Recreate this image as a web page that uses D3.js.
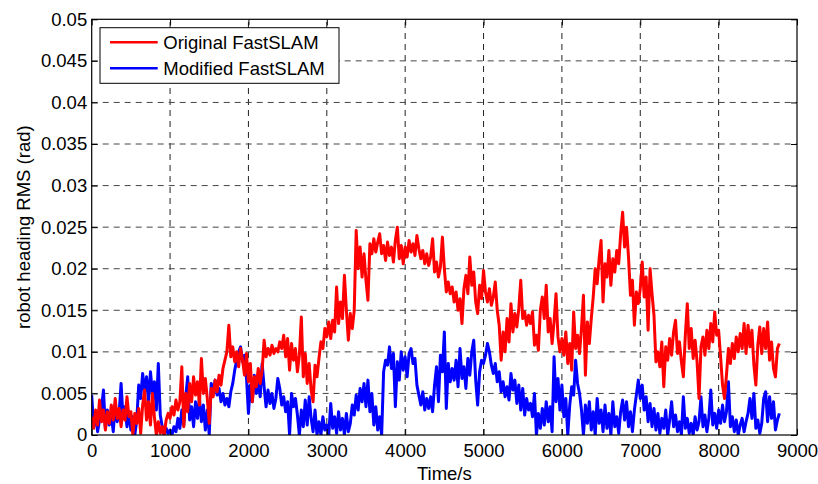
<!DOCTYPE html>
<html><head><meta charset="utf-8">
<script src="https://cdn.jsdelivr.net/npm/d3@7"></script>
<style>
body{margin:0;background:#fff}
svg{display:block}
text{font-family:Arial,"Liberation Sans",Helvetica,sans-serif;fill:#000}
</style>
</head><body>
<svg id="chart" width="818" height="484"></svg>
<script>
// ---- data ----
const sampleStep = 25; // seconds between samples, first sample at t = 0
const seriesNames = ["Original FastSLAM", "Modified FastSLAM"];
const seriesColors = ["#ff0000", "#0000ff"];
const originalRMS = [
 0.0022,0.0008,0.0030,0.0012,0.0042,0.0016,0.0030,0.0006,0.0028,0.0014,
 0.0036,0.0018,0.0044,0.0020,0.0032,0.0010,0.0030,0.0018,0.0046,0.0022,
 0.0028,0.0000,0.0026,0.0014,0.0032,0.0002,0.0036,0.0054,0.0018,0.0040,
 0.0012,0.0050,0.0022,0.0000,0.0016,0.0002,0.0010,0.0000,0.0018,0.0026,
 0.0020,0.0034,0.0024,0.0042,0.0030,0.0040,0.0082,0.0010,0.0050,0.0028,
 0.0062,0.0040,0.0070,0.0048,0.0064,0.0036,0.0092,0.0050,0.0068,0.0044,
 0.0014,0.0056,0.0046,0.0066,0.0052,0.0072,0.0060,0.0080,0.0090,0.0100,
 0.0132,0.0094,0.0106,0.0088,0.0100,0.0082,0.0104,0.0090,0.0072,0.0098,
 0.0064,0.0086,0.0040,0.0070,0.0058,0.0080,0.0062,0.0078,0.0114,0.0094,
 0.0104,0.0096,0.0108,0.0098,0.0104,0.0100,0.0112,0.0104,0.0120,0.0094,
 0.0116,0.0078,0.0110,0.0090,0.0104,0.0076,0.0096,0.0142,0.0070,0.0098,
 0.0062,0.0086,0.0054,0.0040,0.0084,0.0070,0.0092,0.0112,0.0104,0.0128,
 0.0118,0.0136,0.0116,0.0138,0.0124,0.0178,0.0134,0.0160,0.0140,0.0192,
 0.0150,0.0114,0.0146,0.0128,0.0150,0.0246,0.0200,0.0226,0.0190,0.0218,
 0.0186,0.0162,0.0230,0.0218,0.0236,0.0220,0.0232,0.0242,0.0218,0.0228,
 0.0210,0.0232,0.0216,0.0226,0.0208,0.0234,0.0250,0.0212,0.0228,0.0206,
 0.0226,0.0214,0.0234,0.0220,0.0230,0.0216,0.0240,0.0224,0.0212,0.0222,
 0.0206,0.0218,0.0204,0.0214,0.0236,0.0196,0.0208,0.0190,0.0202,0.0238,
 0.0200,0.0172,0.0184,0.0170,0.0178,0.0160,0.0172,0.0150,0.0164,0.0134,
 0.0176,0.0192,0.0170,0.0214,0.0180,0.0196,0.0160,0.0146,0.0180,0.0164,
 0.0198,0.0172,0.0160,0.0176,0.0156,0.0166,0.0184,0.0150,0.0132,0.0090,
 0.0124,0.0100,0.0140,0.0112,0.0158,0.0124,0.0146,0.0130,0.0152,0.0186,
 0.0140,0.0148,0.0132,0.0144,0.0134,0.0148,0.0108,0.0120,0.0102,0.0150,
 0.0166,0.0140,0.0180,0.0124,0.0140,0.0110,0.0136,0.0170,0.0118,0.0100,
 0.0116,0.0096,0.0124,0.0086,0.0110,0.0078,0.0148,0.0104,0.0120,0.0098,
 0.0128,0.0168,0.0072,0.0136,0.0110,0.0140,0.0166,0.0200,0.0182,0.0212,
 0.0234,0.0160,0.0206,0.0190,0.0222,0.0180,0.0212,0.0196,0.0222,0.0206,
 0.0242,0.0268,0.0226,0.0250,0.0214,0.0168,0.0186,0.0132,0.0172,0.0158,
 0.0176,0.0208,0.0166,0.0190,0.0126,0.0200,0.0170,0.0144,0.0088,0.0100,
 0.0082,0.0112,0.0058,0.0106,0.0090,0.0116,0.0096,0.0124,0.0138,0.0098,
 0.0112,0.0088,0.0070,0.0120,0.0158,0.0104,0.0128,0.0092,0.0114,0.0088,
 0.0044,0.0106,0.0118,0.0096,0.0126,0.0104,0.0134,0.0112,0.0148,0.0120,
 0.0126,0.0094,0.0060,0.0044,0.0072,0.0104,0.0086,0.0110,0.0092,0.0118,
 0.0100,0.0122,0.0104,0.0134,0.0098,0.0132,0.0106,0.0126,0.0084,0.0060,
 0.0108,0.0130,0.0098,0.0128,0.0104,0.0136,0.0090,0.0112,0.0080,0.0070,
 0.0104,0.0110
];
const modifiedRMS = [
 0.0048,0.0010,0.0026,0.0004,0.0018,0.0032,0.0054,0.0008,0.0030,0.0012,
 0.0024,0.0004,0.0036,0.0016,0.0026,0.0062,0.0020,0.0034,0.0010,0.0028,
 0.0006,0.0022,0.0000,0.0018,0.0060,0.0044,0.0074,0.0052,0.0070,0.0040,
 0.0076,0.0050,0.0064,0.0030,0.0086,0.0024,0.0010,0.0000,0.0008,0.0002,
 0.0006,0.0000,0.0010,0.0004,0.0020,0.0008,0.0030,0.0012,0.0046,0.0070,
 0.0018,0.0034,0.0010,0.0040,0.0020,0.0044,0.0016,0.0036,0.0006,0.0030,
 0.0000,0.0062,0.0052,0.0066,0.0048,0.0056,0.0040,0.0050,0.0036,0.0044,
 0.0034,0.0052,0.0062,0.0078,0.0090,0.0100,0.0106,0.0088,0.0096,0.0070,
 0.0026,0.0060,0.0040,0.0072,0.0050,0.0064,0.0046,0.0086,0.0058,0.0034,
 0.0054,0.0038,0.0050,0.0032,0.0044,0.0068,0.0056,0.0036,0.0046,0.0028,
 0.0040,0.0000,0.0050,0.0034,0.0044,0.0024,0.0000,0.0030,0.0010,0.0042,
 0.0012,0.0046,0.0020,0.0004,0.0030,0.0000,0.0016,0.0000,0.0022,0.0006,
 0.0012,0.0000,0.0038,0.0008,0.0022,0.0002,0.0028,0.0006,0.0020,0.0000,
 0.0026,0.0004,0.0014,0.0036,0.0024,0.0048,0.0030,0.0056,0.0040,0.0062,
 0.0034,0.0066,0.0028,0.0050,0.0012,0.0034,0.0006,0.0022,0.0000,0.0076,
 0.0090,0.0084,0.0106,0.0080,0.0098,0.0034,0.0088,0.0066,0.0100,0.0078,
 0.0094,0.0070,0.0098,0.0104,0.0086,0.0092,0.0060,0.0048,0.0036,0.0052,
 0.0030,0.0044,0.0032,0.0046,0.0028,0.0060,0.0082,0.0040,0.0096,0.0076,
 0.0124,0.0032,0.0086,0.0064,0.0080,0.0066,0.0090,0.0058,0.0104,0.0068,
 0.0082,0.0056,0.0092,0.0072,0.0100,0.0114,0.0066,0.0036,0.0076,0.0090,
 0.0086,0.0096,0.0110,0.0100,0.0084,0.0074,0.0086,0.0064,0.0076,0.0052,
 0.0064,0.0046,0.0058,0.0042,0.0074,0.0054,0.0066,0.0038,0.0060,0.0030,
 0.0056,0.0024,0.0044,0.0030,0.0038,0.0022,0.0050,0.0000,0.0026,0.0008,
 0.0032,0.0012,0.0040,0.0016,0.0034,0.0004,0.0094,0.0040,0.0068,0.0030,
 0.0060,0.0022,0.0044,0.0000,0.0036,0.0058,0.0048,0.0090,0.0062,0.0050,
 0.0030,0.0000,0.0036,0.0014,0.0040,0.0006,0.0028,0.0000,0.0044,0.0014,
 0.0030,0.0004,0.0036,0.0008,0.0026,0.0000,0.0040,0.0010,0.0022,0.0002,
 0.0028,0.0042,0.0018,0.0040,0.0010,0.0028,0.0004,0.0030,0.0048,0.0066,
 0.0044,0.0060,0.0030,0.0046,0.0016,0.0038,0.0010,0.0032,0.0006,0.0026,
 0.0002,0.0020,0.0008,0.0030,0.0000,0.0018,0.0040,0.0010,0.0024,0.0004,
 0.0016,0.0000,0.0046,0.0008,0.0020,0.0002,0.0014,0.0000,0.0022,0.0006,
 0.0016,0.0046,0.0010,0.0024,0.0004,0.0020,0.0054,0.0012,0.0026,0.0008,
 0.0030,0.0014,0.0036,0.0016,0.0028,0.0064,0.0010,0.0022,0.0004,0.0018,
 0.0000,0.0012,0.0020,0.0004,0.0016,0.0026,0.0044,0.0020,0.0050,0.0008,
 0.0018,0.0002,0.0014,0.0044,0.0052,0.0016,0.0046,0.0020,0.0040,0.0006,
 0.0018,0.0026
];
const xTicks = [0,1000,2000,3000,4000,5000,6000,7000,8000,9000];
const xTickLabels = ["0","1000","2000","3000","4000","5000","6000","7000","8000","9000"];
const yTicks = [0,0.005,0.01,0.015,0.02,0.025,0.03,0.035,0.04,0.045,0.05];
const yTickLabels = ["0","0.005","0.01","0.015","0.02","0.025","0.03","0.035","0.04","0.045","0.05"];
const xLabel = "Time/s";
const yLabel = "robot heading RMS (rad)";

// ---- layout ----
const L = 91.7, R = 797, T = 19.3, B = 435;
const FS = "18.5px";
const svg = d3.select("#chart");
const x = d3.scaleLinear().domain([0, 9000]).range([L, R]);
const y = d3.scaleLinear().domain([0, 0.05]).range([B, T]);

// grid
const grid = svg.append("g").attr("stroke-width", 1)
  .attr("stroke-dasharray", "6,5").attr("fill", "none");
grid.selectAll(".gx").data(xTicks.slice(1, -1)).join("line")
  .attr("stroke", "#222")
  .attr("x1", d => x(d)).attr("x2", d => x(d)).attr("y1", B).attr("y2", T);
grid.selectAll(".gy").data(yTicks.slice(1, -1)).join("line")
  .attr("stroke", "#444")
  .attr("y1", d => y(d)).attr("y2", d => y(d)).attr("x1", L).attr("x2", R);

// series
svg.append("clipPath").attr("id", "clip").append("rect")
  .attr("x", L).attr("y", T).attr("width", R - L).attr("height", B - T);
const line = d3.line().x((d, i) => x(i * sampleStep)).y(d => y(d));
const plotG = svg.append("g").attr("clip-path", "url(#clip)");
[[modifiedRMS, seriesColors[1]], [originalRMS, seriesColors[0]]].forEach(([vals, col]) => {
  plotG.append("path").datum(vals).attr("d", line).attr("fill", "none")
    .attr("stroke", col).attr("stroke-width", 3).attr("stroke-linejoin", "round");
});

// axes
const styleAxis = g => {
  g.select(".domain").remove();
  g.selectAll(".tick line").attr("stroke", "#000");
  g.selectAll("text").style("font-size", FS).attr("fill", "#000")
    .style("font-family", 'Arial,"Liberation Sans",Helvetica,sans-serif');
};
svg.append("g").attr("transform", `translate(0,${B})`)
  .call(d3.axisBottom(x).tickValues(xTicks).tickFormat((d, i) => xTickLabels[i])
    .tickSizeInner(-6).tickSizeOuter(0).tickPadding(9)).call(styleAxis);
svg.append("g").attr("transform", `translate(0,${T})`)
  .call(d3.axisTop(x).tickValues(xTicks).tickFormat("").tickSizeInner(-6).tickSizeOuter(0)).call(styleAxis);
svg.append("g").attr("transform", `translate(${L},0)`)
  .call(d3.axisLeft(y).tickValues(yTicks).tickFormat((d, i) => yTickLabels[i])
    .tickSizeInner(-6).tickSizeOuter(0).tickPadding(4.5)).call(styleAxis);
svg.append("g").attr("transform", `translate(${R},0)`)
  .call(d3.axisRight(y).tickValues(yTicks).tickFormat("").tickSizeInner(-6).tickSizeOuter(0)).call(styleAxis);

// box
svg.append("rect").attr("x", L).attr("y", T).attr("width", R - L).attr("height", B - T)
  .attr("fill", "none").attr("stroke", "#000").attr("stroke-width", 1.2);

// axis labels
svg.append("text").attr("x", (L + R) / 2).attr("y", 480).attr("text-anchor", "middle")
  .style("font-size", FS).text(xLabel);
svg.append("text").attr("transform", `translate(30,${(T + B) / 2}) rotate(-90)`)
  .attr("text-anchor", "middle").style("font-size", FS).text(yLabel);

// legend
const lg = svg.append("g");
lg.append("rect").attr("x", 100).attr("y", 27.7).attr("width", 239).attr("height", 55.6)
  .attr("fill", "#fff").attr("stroke", "#000").attr("stroke-width", 1);
const rowsY = [42.3, 68.3];
seriesNames.forEach((n, i) => {
  lg.append("line").attr("x1", 110).attr("x2", 157.7).attr("y1", rowsY[i]).attr("y2", rowsY[i])
    .attr("stroke", seriesColors[i]).attr("stroke-width", 2.6);
  lg.append("text").attr("x", 163.3).attr("y", rowsY[i] + 7).style("font-size", FS).text(n);
});
</script>
</body></html>
